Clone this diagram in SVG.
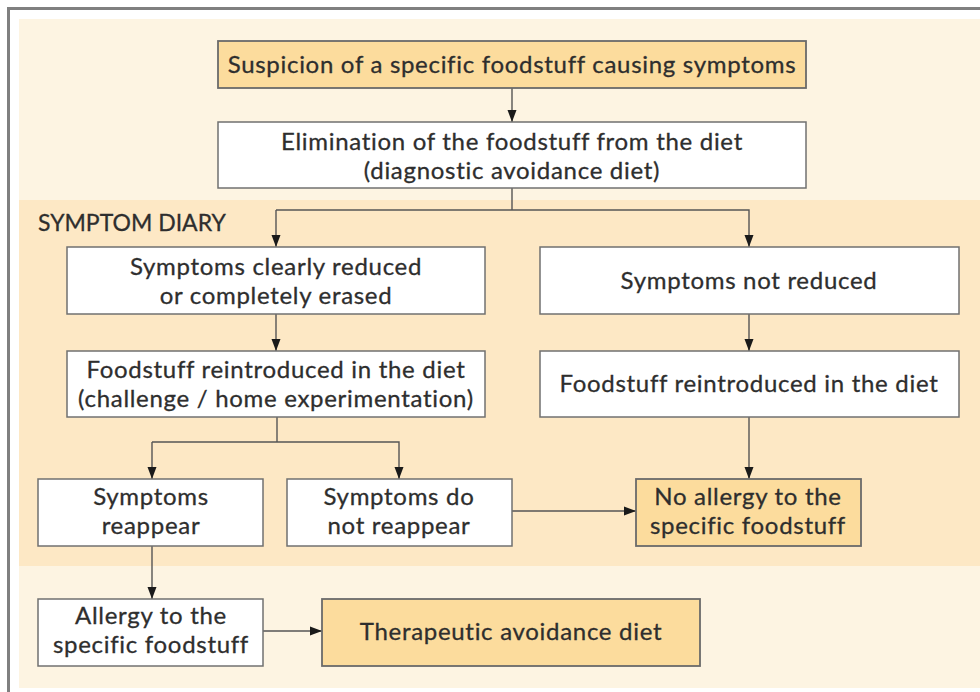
<svg xmlns="http://www.w3.org/2000/svg" width="980" height="692" viewBox="0 0 980 692">
<defs>
<style>
.box{fill:#ffffff;stroke:#707070;stroke-width:1.5}
.hl{fill:#fcdc9d;stroke:#6a6a6a;stroke-width:1.8}
.t{font-family:Lato,"Open Sans","Liberation Sans",sans-serif;font-size:24px;letter-spacing:0.7px;fill:#2e2e2e;text-anchor:middle;stroke:#2e2e2e;stroke-width:0.3}
.lab{font-family:Lato,"Open Sans","Liberation Sans",sans-serif;font-size:23px;fill:#2e2e2e;stroke:#2e2e2e;stroke-width:0.3}
.ln{fill:none;stroke:#555555;stroke-width:1.4}
</style>
<marker id="ah" viewBox="0 0 12 10" refX="12" refY="5" markerWidth="12" markerHeight="10" markerUnits="userSpaceOnUse" orient="auto">
<path d="M0,0.5 L12,5 L0,9.5 Z" fill="#1a1a1a"/>
</marker>
</defs>
<rect x="0" y="0" width="980" height="692" fill="#ffffff"/>
<rect x="19" y="19" width="961" height="669" fill="#fdf4e2"/>
<rect x="19" y="200" width="961" height="366" fill="#fde8c5"/>
<path d="M8.5,692 L8.5,8.5 L980,8.5" fill="none" stroke="#808080" stroke-width="3"/>
<text class="lab" x="38" y="231">SYMPTOM DIARY</text>

<g id="connectors">
<path class="ln" d="M512,88 L512,122" marker-end="url(#ah)"/>
<path class="ln" d="M512,188 L512,210"/>
<path class="ln" d="M276,210 L749,210 L749,247" marker-end="url(#ah)"/>
<path class="ln" d="M276,210 L276,247" marker-end="url(#ah)"/>
<path class="ln" d="M276,314 L276,351" marker-end="url(#ah)"/>
<path class="ln" d="M749,314 L749,351" marker-end="url(#ah)"/>
<path class="ln" d="M277,417 L277,442"/>
<path class="ln" d="M152,442 L399,442 L399,479" marker-end="url(#ah)"/>
<path class="ln" d="M152,442 L152,479" marker-end="url(#ah)"/>
<path class="ln" d="M749,417 L749,479" marker-end="url(#ah)"/>
<path class="ln" d="M512,511 L636,511" marker-end="url(#ah)"/>
<path class="ln" d="M152,546 L152,599" marker-end="url(#ah)"/>
<path class="ln" d="M263,631 L322,631" marker-end="url(#ah)"/>
</g>

<g id="suspicion">
<rect class="hl" x="218" y="41" width="588" height="47"/>
<text class="t" x="512" y="73">Suspicion of a specific foodstuff causing symptoms</text>
</g>
<g id="elimination">
<rect class="box" x="218" y="122" width="588" height="66"/>
<text class="t" x="512" y="150">Elimination of the foodstuff from the diet</text>
<text class="t" x="512" y="179">(diagnostic avoidance diet)</text>
</g>
<g id="reduced">
<rect class="box" x="67" y="247" width="418" height="67"/>
<text class="t" x="276" y="275">Symptoms clearly reduced</text>
<text class="t" x="276" y="304">or completely erased</text>
</g>
<g id="challenge">
<rect class="box" x="67" y="351" width="418" height="66"/>
<text class="t" x="276" y="378">Foodstuff reintroduced in the diet</text>
<text class="t" x="276" y="407">(challenge / home experimentation)</text>
</g>
<g id="notreduced">
<rect class="box" x="540" y="247" width="419" height="67"/>
<text class="t" x="749" y="289">Symptoms not reduced</text>
</g>
<g id="reintroduced">
<rect class="box" x="540" y="351" width="419" height="66"/>
<text class="t" x="749" y="392">Foodstuff reintroduced in the diet</text>
</g>
<g id="reappear">
<rect class="box" x="38" y="479" width="225" height="67"/>
<text class="t" x="151" y="505">Symptoms</text>
<text class="t" x="151" y="534">reappear</text>
</g>
<g id="notreappear">
<rect class="box" x="287" y="479" width="225" height="67"/>
<text class="t" x="399" y="505">Symptoms do</text>
<text class="t" x="399" y="534">not reappear</text>
</g>
<g id="noallergy">
<rect class="hl" x="636" y="479" width="225" height="67"/>
<text class="t" x="748" y="505">No allergy to the</text>
<text class="t" x="748" y="534">specific foodstuff</text>
</g>
<g id="allergy">
<rect class="box" x="38" y="599" width="225" height="67"/>
<text class="t" x="151" y="624">Allergy to the</text>
<text class="t" x="151" y="653">specific foodstuff</text>
</g>
<g id="therapeutic">
<rect class="hl" x="322" y="599" width="378" height="67"/>
<text class="t" x="511" y="640">Therapeutic avoidance diet</text>
</g>
</svg>
